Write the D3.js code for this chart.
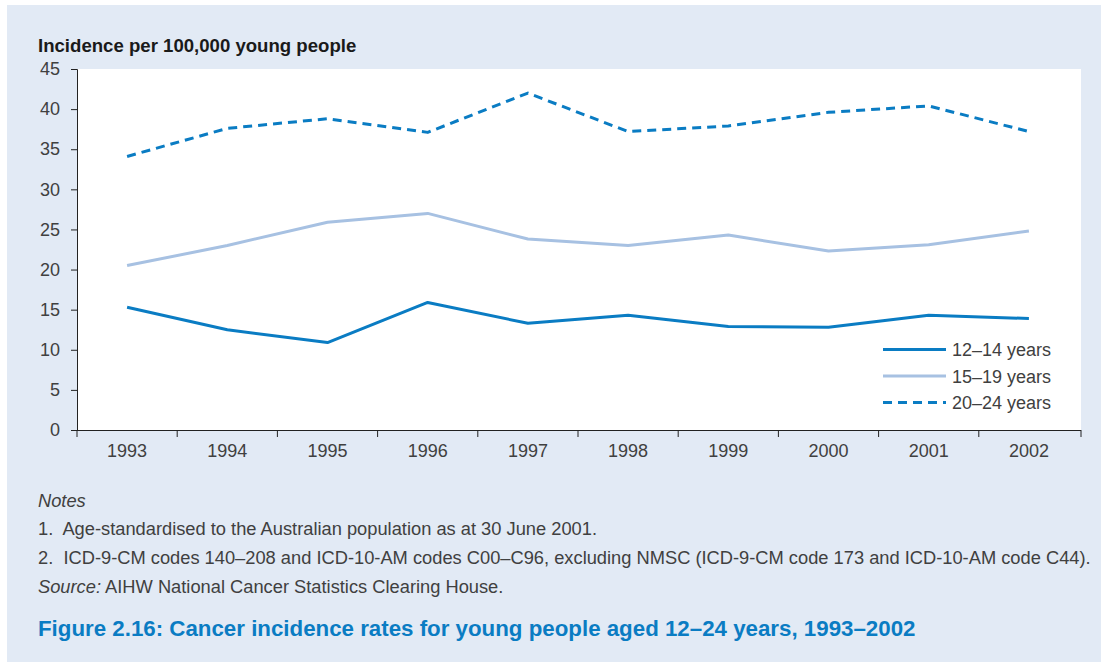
<!DOCTYPE html>
<html>
<head>
<meta charset="utf-8">
<script src="https://cdn.jsdelivr.net/npm/d3@7"></script>
<style>
  body { margin: 0; background: #fff; }
  svg text { font-family: "Liberation Sans", Arial, sans-serif; }
</style>
</head>
<body>
<div id="chart"></div>
<script>
// chart data
const years = ["1993", "1994", "1995", "1996", "1997", "1998", "1999", "2000", "2001", "2002"];
const age12to14 = [15.3, 12.5, 10.9, 15.9, 13.3, 14.3, 12.9, 12.8, 14.3, 13.9];
const age15to19 = [20.5, 23.0, 25.9, 27.0, 23.8, 23.0, 24.3, 22.3, 23.1, 24.8];
const age20to24 = [34.1, 37.6, 38.8, 37.1, 42.0, 37.2, 37.9, 39.6, 40.4, 37.2];
const yTicks = [0, 5, 10, 15, 20, 25, 30, 35, 40, 45];
const seriesNames = ["12\u201314 years", "15\u201319 years", "20\u201324 years"];

const W = 1101, H = 662;
const MARGIN = { LEFT: 77, RIGHT: 22, TOP: 69, BOTTOM: 232 };
const WIDTH = W - MARGIN.LEFT - MARGIN.RIGHT;
const HEIGHT = H - MARGIN.TOP - MARGIN.BOTTOM;

const darkBlue = "#0a7cc3";
const lightBlue = "#a7c1e2";
const textGrey = "#404040";

const svg = d3.select("#chart").append("svg")
    .attr("width", W)
    .attr("height", H);

// panel background
svg.append("rect")
    .attr("x", 7).attr("y", 5)
    .attr("width", W - 7).attr("height", H - 5)
    .attr("fill", "#e2eaf5");

const g = svg.append("g")
    .attr("transform", `translate(${MARGIN.LEFT}, ${MARGIN.TOP})`);

g.append("rect")
    .attr("width", WIDTH + 2).attr("height", HEIGHT)
    .attr("fill", "#fff");

const x = d3.scaleBand().domain(years).range([0, WIDTH]);
const y = d3.scaleLinear().domain([0, 45]).range([HEIGHT, 0]);

// y axis
const yAxis = g.append("g")
    .call(d3.axisLeft(y).tickValues(yTicks).tickSize(6).tickPadding(11));
yAxis.select(".domain").attr("stroke", "#222").attr("d", `M-6,0.5H0.5V${HEIGHT}`);
yAxis.selectAll(".tick line").attr("stroke", "#222");
yAxis.selectAll(".tick text")
    .attr("fill", textGrey)
    .style("font-size", "18px");

// x axis, ticks at band edges
const xAxis = g.append("g")
    .attr("transform", `translate(0, ${HEIGHT})`)
    .call(d3.axisBottom(x).tickSize(0).tickPadding(14));
xAxis.select(".domain").attr("stroke", "#222").attr("d", `M0,0.5H${WIDTH + 2}`);
xAxis.selectAll(".tick text")
    .attr("fill", textGrey)
    .style("font-size", "18px");
const edges = years.map(d => x(d)).concat([WIDTH + 2]);
xAxis.selectAll(".edge")
    .data(edges)
    .join("line")
    .attr("class", "edge")
    .attr("x1", d => d).attr("x2", d => d)
    .attr("y1", 0).attr("y2", 7)
    .attr("stroke", "#222");

const line = d3.line()
    .x((d, i) => x(years[i]) + x.bandwidth() / 2)
    .y(d => y(d));

const series = [
    { name: seriesNames[0], values: age12to14, color: darkBlue, dash: null },
    { name: seriesNames[1], values: age15to19, color: lightBlue, dash: null },
    { name: seriesNames[2], values: age20to24, color: darkBlue, dash: "9,6" }
];

g.selectAll(".series")
    .data(series)
    .join("path")
    .attr("class", "series")
    .attr("d", d => line(d.values))
    .attr("fill", "none")
    .attr("stroke", d => d.color)
    .attr("stroke-width", 3)
    .attr("stroke-linejoin", "round")
    .attr("stroke-dasharray", d => d.dash);

// legend
const legend = g.append("g")
    .attr("transform", `translate(${883 - MARGIN.LEFT}, ${349.5 - MARGIN.TOP})`);
const items = legend.selectAll(".item")
    .data(series)
    .join("g")
    .attr("class", "item")
    .attr("transform", (d, i) => `translate(0, ${i * 26.5})`);
items.append("line")
    .attr("x1", 0).attr("x2", 63)
    .attr("stroke", d => d.color)
    .attr("stroke-width", 3)
    .attr("stroke-dasharray", d => d.dash);
items.append("text")
    .attr("x", 69).attr("y", 6.5)
    .attr("fill", textGrey)
    .style("font-size", "18px")
    .text(d => d.name);

// y axis title
svg.append("text")
    .attr("x", 38).attr("y", 52)
    .attr("fill", "#1a1a1a")
    .style("font-size", "18.6px")
    .style("font-weight", "bold")
    .text("Incidence per 100,000 young people");

// notes
const notes = svg.append("g").attr("fill", textGrey).style("font-size", "18.3px");
notes.append("text").attr("x", 38).attr("y", 507)
    .style("font-style", "italic").text("Notes");
notes.append("text").attr("x", 38).attr("y", 535)
    .attr("xml:space", "preserve")
    .text("1.  Age-standardised to the Australian population as at 30 June 2001.");
notes.append("text").attr("x", 38).attr("y", 564)
    .attr("xml:space", "preserve")
    .text("2.  ICD-9-CM codes 140\u2013208 and ICD-10-AM codes C00\u2013C96, excluding NMSC (ICD-9-CM code 173 and ICD-10-AM code C44).");
const src = notes.append("text").attr("x", 38).attr("y", 593);
src.append("tspan").style("font-style", "italic").text("Source:");
src.append("tspan").text(" AIHW National Cancer Statistics Clearing House.");

// figure caption
svg.append("text")
    .attr("x", 38).attr("y", 636)
    .attr("fill", "#0a7cc3")
    .style("font-size", "22.3px")
    .style("font-weight", "bold")
    .text("Figure 2.16: Cancer incidence rates for young people aged 12\u201324 years, 1993\u20132002");
</script>
</body>
</html>
